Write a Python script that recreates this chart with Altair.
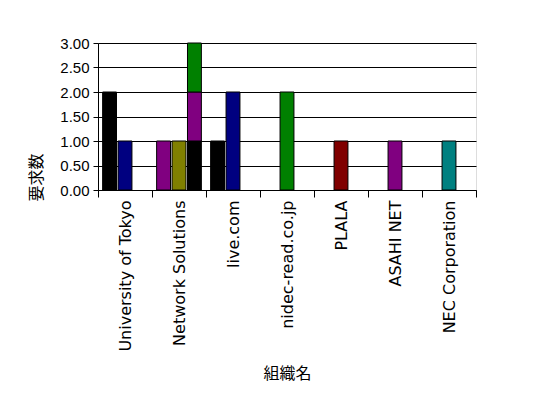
import altair as alt
import pandas as pd

categories = ["University of Tokyo", "Network Solutions", "live.com", "nidec-read.co.jp",
              "PLALA", "ASAHI NET", "NEC Corporation"]
bar_category = ["University of Tokyo", "University of Tokyo",
                "Network Solutions", "Network Solutions", "Network Solutions", "Network Solutions", "Network Solutions",
                "live.com", "live.com",
                "nidec-read.co.jp", "PLALA", "ASAHI NET", "NEC Corporation"]
bar_slot = [1, 2, 1, 2, 3, 3, 3, 1, 2, 2, 2, 2, 2]
bar_series = ["black", "navy", "purple", "olive", "black", "purple", "green",
              "black", "navy", "green", "maroon", "purple", "teal"]
bar_order = [0, 0, 0, 0, 0, 1, 2, 0, 0, 0, 0, 0, 0]
bar_value = [2, 1, 1, 1, 1, 1, 1, 1, 2, 2, 1, 1, 1]

series_names = ["black", "navy", "purple", "olive", "green", "maroon", "teal"]
series_colors = ["#000000", "#000080", "#800080", "#808000", "#008000", "#800000", "#008080"]
y_ticks = [0, 0.5, 1, 1.5, 2, 2.5, 3]

df = pd.DataFrame({"組織名": bar_category, "slot": bar_slot, "series": bar_series,
                   "ord": bar_order, "要求数": bar_value})

chart = alt.Chart(df).mark_bar(stroke="black", strokeWidth=1).encode(
    x=alt.X("組織名:N", sort=categories, scale=alt.Scale(paddingInner=0.0, paddingOuter=0.0),
            axis=alt.Axis(labelAngle=270, labelFontSize=16, labelFont="DejaVu Sans",
                          labelColor="black", titleFont="Noto Sans CJK JP", titleFontSize=16,
                          titleFontWeight="normal", titleColor="black", titlePadding=14,
                          domainColor="black", tickColor="black", tickBand="extent",
                          tickSize=7, labelPadding=3)),
    xOffset=alt.XOffset("slot:O", scale=alt.Scale(domain=[1, 2, 3], paddingInner=0.1, paddingOuter=0.3)),
    y=alt.Y("sum(要求数):Q", scale=alt.Scale(domain=[0, 3]), stack="zero",
            axis=alt.Axis(values=y_ticks, format=".2f", labelFontSize=15, labelFont="Liberation Sans",
                          labelColor="black", title="要求数", titleFont="Noto Sans CJK JP",
                          titleFontSize=16, titleFontWeight="normal", titleColor="black",
                          gridColor="black", gridOpacity=1, domainColor="black",
                          tickColor="black", titlePadding=15, titleY=134, labelPadding=4)),
    color=alt.Color("series:N", scale=alt.Scale(domain=series_names, range=series_colors), legend=None),
    order=alt.Order("ord:Q"),
).properties(width=378, height=147,
             padding={"left": 20, "top": 28, "right": 5, "bottom": 5}
).configure_view(stroke="black", strokeWidth=1).configure(background="white")

chart.save("out.html", embed_options={"renderer": "svg", "actions": False})
